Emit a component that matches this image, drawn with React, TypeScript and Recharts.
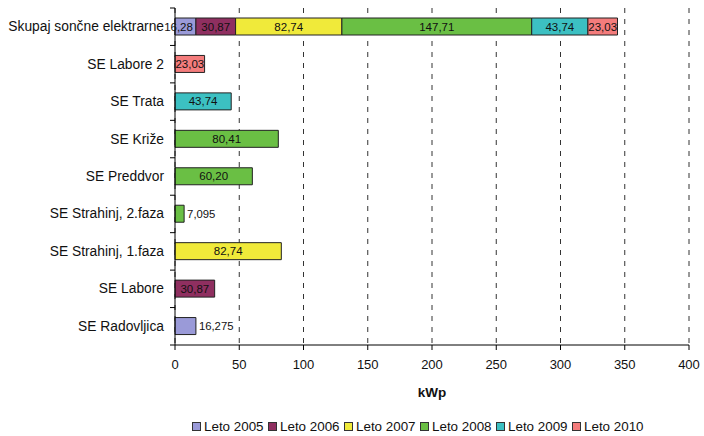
import React from 'react';
import { BarChart, Bar, XAxis, YAxis, CartesianGrid, Legend, LabelList } from 'recharts';

const categories = [
  'Skupaj sončne elektrarne',
  'SE Labore 2',
  'SE Trata',
  'SE Križe',
  'SE Preddvor',
  'SE Strahinj, 2.faza',
  'SE Strahinj, 1.faza',
  'SE Labore',
  'SE Radovljica',
];

const seriesNames = ['Leto 2005', 'Leto 2006', 'Leto 2007', 'Leto 2008', 'Leto 2009', 'Leto 2010'];
const seriesColors = ['#9a9ad8', '#8f2f60', '#f0ea3a', '#6abf44', '#3cc0c2', '#f47c7c'];

const v2005 = [16.275, null, null, null, null, null, null, null, 16.275];
const v2006 = [30.87, null, null, null, null, null, null, 30.87, null];
const v2007 = [82.74, null, null, null, null, null, 82.74, null, null];
const v2008 = [147.71, null, null, 80.41, 60.2, 7.095, null, null, null];
const v2009 = [43.74, null, 43.74, null, null, null, null, null, null];
const v2010 = [23.03, 23.03, null, null, null, null, null, null, null];

const l2005 = ['16,28', '', '', '', '', '', '', '', '16,275'];
const l2006 = ['30,87', '', '', '', '', '', '', '30,87', ''];
const l2007 = ['82,74', '', '', '', '', '', '82,74', '', ''];
const l2008 = ['147,71', '', '', '80,41', '60,20', '7,095', '', '', ''];
const l2009 = ['43,74', '', '43,74', '', '', '', '', '', ''];
const l2010 = ['23,03', '23,03', '', '', '', '', '', '', ''];

const xTicks = [0, 50, 100, 150, 200, 250, 300, 350, 400];

const values = [v2005, v2006, v2007, v2008, v2009, v2010];
const labels = [l2005, l2006, l2007, l2008, l2009, l2010];

const data = categories.map((name, i) => {
  const row: any = { name };
  values.forEach((arr, s) => {
    row['s' + s] = arr[i];
    row['l' + s] = labels[s][i];
  });
  return row;
});

const PLOT_TOP = 8;
const PLOT_BOTTOM = 345;
const BAND = (PLOT_BOTTOM - PLOT_TOP) / categories.length;
const Y_MARGIN = 11;

const YTick = (props: any) => {
  const { x, y, payload, index } = props;
  const ax = x + Y_MARGIN;
  return (
    <g>
      <text x={x} y={y} textAnchor="end" dominantBaseline="central" fontSize={13.8} fill="#111">
        {payload.value}
      </text>
      <line x1={ax - 5} x2={ax} y1={y - BAND / 2} y2={y - BAND / 2} stroke="#000" />
      {index === categories.length - 1 && (
        <line x1={ax - 5} x2={ax} y1={y + BAND / 2} y2={y + BAND / 2} stroke="#000" />
      )}
    </g>
  );
};

const BarLabel = (props: any) => {
  const { x, y, width, height, value } = props;
  if (!value) return null;
  const isTotalRow = y + height / 2 < PLOT_TOP + BAND;
  const narrow = width < 25;
  if (narrow && !isTotalRow) {
    return (
      <text x={x + width + 3} y={y + height / 2} dominantBaseline="central" fontSize={11.3} fill="#111">
        {value}
      </text>
    );
  }
  if (narrow && isTotalRow) {
    return (
      <text x={x + width - 3} y={y + height / 2} textAnchor="end" dominantBaseline="central" fontSize={11.5} fill="#111">
        {value}
      </text>
    );
  }
  return (
    <text x={x + width / 2} y={y + height / 2} textAnchor="middle" dominantBaseline="central" fontSize={11.5} fill="#111">
      {value}
    </text>
  );
};

const LegendContent = () => (
  <div style={{ display: 'flex', fontSize: 13.4, color: '#111', whiteSpace: 'nowrap' }}>
    {seriesNames.map((n, i) => (
      <div key={n} style={{ display: 'flex', alignItems: 'center', width: 76 }}>
        <div style={{ width: 7, height: 7, background: seriesColors[i], border: '1px solid #333', marginRight: 3, flex: 'none' }} />
        <span>{n}</span>
      </div>
    ))}
  </div>
);

export default function App() {
  return (
    <div style={{ position: 'absolute', left: 0, top: 0, width: 704, height: 436, background: '#fff', fontFamily: '"Liberation Sans", Arial, sans-serif' }}>
      <BarChart
        width={704}
        height={436}
        data={data}
        layout="vertical"
        margin={{ top: PLOT_TOP, right: 15, left: 0, bottom: 31 }}
        barSize={17}
      >
        <CartesianGrid horizontal={false} vertical={true} stroke="#333" strokeDasharray="5 6" />
        <XAxis
          type="number"
          domain={[0, 400]}
          ticks={xTicks}
          interval={0}
          height={60}
          tick={{ fontSize: 13, fill: '#111' }}
          tickLine={{ stroke: '#000' }}
          tickSize={5}
          tickMargin={10}
          axisLine={{ stroke: '#000' }}
          label={{ value: 'kWp', position: 'insideBottom', offset: 8, fontSize: 13.5, fontWeight: 'bold', fill: '#111' }}
        />
        <YAxis
          type="category"
          dataKey="name"
          width={175}
          interval={0}
          tick={<YTick />}
          tickLine={false}
          tickSize={0}
          tickMargin={Y_MARGIN}
          axisLine={{ stroke: '#000' }}
        />
        <Legend
          verticalAlign="middle"
          align="center"
          layout="horizontal"
          content={<LegendContent />}
          wrapperStyle={{ position: 'absolute', top: 419, left: 192, width: 480, height: 16 }}
        />
        {seriesNames.map((n, s) => (
          <Bar
            key={n}
            dataKey={'s' + s}
            name={n}
            stackId="a"
            fill={seriesColors[s]}
            stroke="#222"
            strokeWidth={1}
            isAnimationActive={false}
          >
            <LabelList dataKey={'l' + s} content={BarLabel} />
          </Bar>
        ))}
      </BarChart>
    </div>
  );
}
